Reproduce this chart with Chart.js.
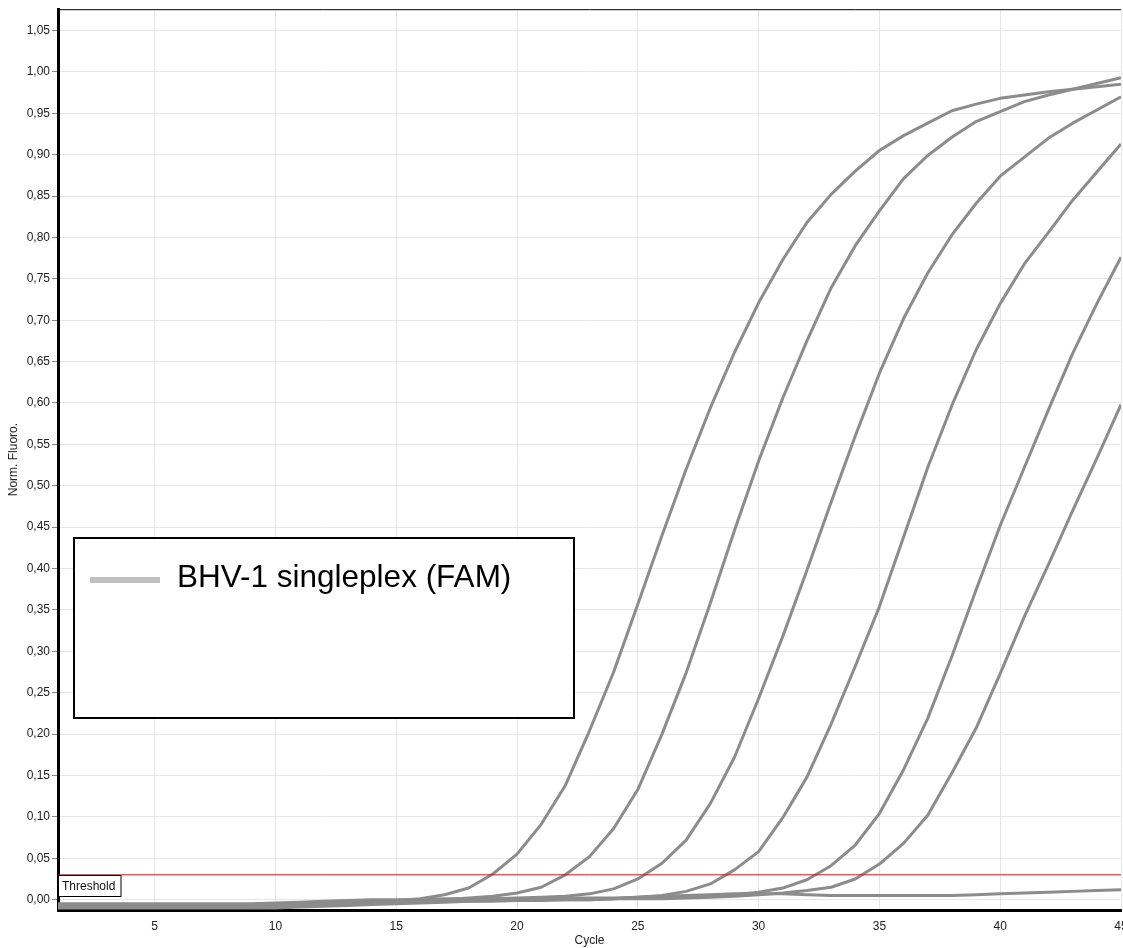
<!DOCTYPE html>
<html>
<head>
<meta charset="utf-8">
<title>BHV-1 singleplex (FAM)</title>
<script src="https://cdn.jsdelivr.net/npm/chart.js@4"></script>
<style>
  html, body { margin: 0; padding: 0; background: #fff; overflow: hidden; }
  #wrap { width: 1123px; height: 948px; overflow: hidden; }
  canvas { display: block; }
</style>
</head>
<body>
<div id="wrap"><canvas id="amp-chart" width="1140" height="948"></canvas></div>
<script>
const seriesLabel = 'BHV-1 singleplex (FAM)';
const cycles = [1,2,3,4,5,6,7,8,9,10,11,12,13,14,15,16,17,18,19,20,21,22,23,24,25,26,27,28,29,30,31,32,33,34,35,36,37,38,39,40,41,42,43,44,45];

// one array per well
const well1 = [-0.008,-0.008,-0.008,-0.008,-0.008,-0.008,-0.008,-0.008,-0.008,-0.007,-0.005,-0.004,-0.003,-0.002,-0.001,0.001,0.006,0.014,0.031,0.055,0.091,0.138,0.204,0.275,0.357,0.440,0.520,0.594,0.661,0.721,0.773,0.818,0.852,0.880,0.905,0.923,0.938,0.953,0.961,0.968,0.972,0.976,0.979,0.982,0.985];
const well2 = [-0.009,-0.009,-0.009,-0.009,-0.009,-0.009,-0.009,-0.009,-0.009,-0.008,-0.006,-0.005,-0.004,-0.003,-0.002,-0.001,0.000,0.002,0.004,0.008,0.015,0.030,0.052,0.086,0.133,0.200,0.274,0.358,0.446,0.530,0.606,0.675,0.739,0.790,0.832,0.871,0.899,0.921,0.940,0.952,0.964,0.972,0.979,0.986,0.993];
const well3 = [-0.006,-0.006,-0.006,-0.006,-0.006,-0.006,-0.006,-0.006,-0.006,-0.006,-0.005,-0.004,-0.003,-0.002,-0.001,-0.001,0.000,0.000,0.001,0.002,0.003,0.004,0.007,0.013,0.025,0.044,0.072,0.116,0.172,0.243,0.318,0.398,0.480,0.560,0.636,0.702,0.757,0.803,0.841,0.874,0.897,0.920,0.938,0.954,0.970];
const well4 = [-0.010,-0.010,-0.010,-0.010,-0.010,-0.010,-0.010,-0.010,-0.010,-0.010,-0.009,-0.008,-0.007,-0.006,-0.005,-0.004,-0.003,-0.002,-0.002,-0.001,-0.001,0.000,0.000,0.001,0.003,0.005,0.010,0.019,0.036,0.058,0.099,0.148,0.212,0.282,0.354,0.438,0.522,0.597,0.664,0.720,0.768,0.806,0.845,0.879,0.913];
const well5 = [-0.005,-0.005,-0.005,-0.005,-0.005,-0.005,-0.005,-0.005,-0.005,-0.004,-0.003,-0.002,-0.001,0.000,0.000,0.000,0.000,0.000,0.000,0.000,0.001,0.001,0.001,0.001,0.002,0.002,0.003,0.004,0.006,0.009,0.014,0.024,0.041,0.066,0.104,0.157,0.219,0.294,0.374,0.452,0.522,0.592,0.660,0.720,0.776];
const well6 = [-0.009,-0.009,-0.009,-0.009,-0.009,-0.009,-0.009,-0.009,-0.009,-0.009,-0.008,-0.007,-0.006,-0.005,-0.004,-0.003,-0.002,-0.002,-0.001,-0.001,0.000,0.000,0.000,0.001,0.001,0.001,0.002,0.003,0.004,0.006,0.008,0.011,0.015,0.025,0.043,0.068,0.102,0.153,0.207,0.273,0.342,0.405,0.470,0.533,0.598];
const well7 = [-0.007,-0.007,-0.007,-0.007,-0.007,-0.007,-0.007,-0.007,-0.007,-0.006,-0.005,-0.004,-0.003,-0.002,-0.001,0.000,0.001,0.001,0.001,0.001,0.001,0.002,0.002,0.002,0.003,0.004,0.005,0.006,0.007,0.007,0.007,0.006,0.005,0.005,0.005,0.005,0.005,0.005,0.006,0.007,0.008,0.009,0.010,0.011,0.012];
const wells = [well1, well2, well3, well4, well5, well6, well7];

const thresholdValue = 0.03;
const thresholdLabel = 'Threshold';
const xTickValues = [5, 10, 15, 20, 25, 30, 35, 40, 45];
const yTickValues = [0, 0.05, 0.10, 0.15, 0.20, 0.25, 0.30, 0.35, 0.40, 0.45, 0.50, 0.55, 0.60, 0.65, 0.70, 0.75, 0.80, 0.85, 0.90, 0.95, 1.00, 1.05];

const FONT = "'Liberation Sans', Arial, sans-serif";
const CURVE_COLOR = '#8c8c8c';

const overlay = {
  id: 'overlay',
  afterDatasetsDraw(chart) {
    const { ctx, chartArea, scales } = chart;
    ctx.save();

    // thin frame on top
    ctx.strokeStyle = '#000';
    ctx.lineWidth = 1;
    ctx.beginPath();
    ctx.moveTo(chartArea.left, chartArea.top + 0.5);
    ctx.lineTo(chartArea.right, chartArea.top + 0.5);
    ctx.stroke();

    // threshold tag under the red line
    const ty = Math.round(scales.y.getPixelForValue(thresholdValue)) + 0.5;
    ctx.fillStyle = '#fff';
    ctx.fillRect(chartArea.left, ty, 63, 21);
    ctx.strokeRect(chartArea.left + 0.5, ty, 62.5, 21);
    ctx.fillStyle = '#111';
    ctx.font = '12px ' + FONT;
    ctx.textBaseline = 'middle';
    ctx.textAlign = 'left';
    ctx.fillText(thresholdLabel, 62, ty + 11);

    // legend box
    ctx.fillStyle = '#fff';
    ctx.fillRect(74, 538, 500, 180);
    ctx.lineWidth = 2;
    ctx.strokeStyle = '#000';
    ctx.strokeRect(74, 538, 500, 180);
    ctx.strokeStyle = '#c0c0c0';
    ctx.lineWidth = 6;
    ctx.beginPath();
    ctx.moveTo(90, 580);
    ctx.lineTo(160, 580);
    ctx.stroke();
    ctx.fillStyle = '#000';
    ctx.font = '31.5px ' + FONT;
    ctx.fillText(seriesLabel, 177, 578);

    ctx.restore();
  }
};

function renderChart() {
  const datasets = [{
    label: thresholdLabel,
    data: [{ x: cycles[0], y: thresholdValue }, { x: cycles[cycles.length - 1], y: thresholdValue }],
    borderColor: '#ff0000',
    borderWidth: 1,
    pointRadius: 0,
    order: 0
  }];
  wells.forEach(vals => {
    datasets.push({
      label: seriesLabel,
      data: cycles.map((c, i) => ({ x: c, y: vals[i] })),
      borderColor: CURVE_COLOR,
      borderWidth: 3,
      borderJoinStyle: 'round',
      pointRadius: 0,
      tension: 0,
      fill: false,
      order: 1
    });
  });

  const ctx = document.getElementById('amp-chart').getContext('2d');
  new Chart(ctx, {
    type: 'line',
    data: { datasets },
    plugins: [overlay],
    options: {
      responsive: false,
      animation: false,
      layout: { padding: { top: 9, right: 19, left: 0, bottom: 0 } },
      scales: {
        x: {
          type: 'linear',
          min: 1,
          max: 45,
          afterBuildTicks: scale => { scale.ticks = xTickValues.map(value => ({ value })); },
          afterFit: scale => { scale.height = 38; },
          ticks: { autoSkip: false, maxRotation: 0, padding: 4, color: '#222', font: { family: FONT, size: 12 } },
          grid: { color: '#e6e6e6', lineWidth: 1, tickLength: 5, tickColor: 'rgba(0,0,0,0)' },
          border: { color: '#000', width: 3 },
          title: { display: true, text: 'Cycle', color: '#222', padding: 0, font: { family: FONT, size: 12 } }
        },
        y: {
          type: 'linear',
          min: -0.0125,
          max: 1.0757,
          afterBuildTicks: scale => { scale.ticks = yTickValues.map(value => ({ value })); },
          afterFit: scale => { scale.width = 58; },
          ticks: {
            autoSkip: false,
            padding: 2,
            color: '#222',
            font: { family: FONT, size: 12 },
            callback: v => v.toFixed(2).replace('.', ',')
          },
          grid: { color: '#e6e6e6', lineWidth: 1, tickLength: 6, tickColor: '#888' },
          border: { color: '#000', width: 3 },
          title: { display: true, text: 'Norm. Fluoro.', color: '#222', padding: { top: 6, bottom: 0 }, font: { family: FONT, size: 12 } }
        }
      },
      plugins: {
        legend: { display: false },
        tooltip: { enabled: false }
      }
    }
  });
}

renderChart();
</script>
</body>
</html>
